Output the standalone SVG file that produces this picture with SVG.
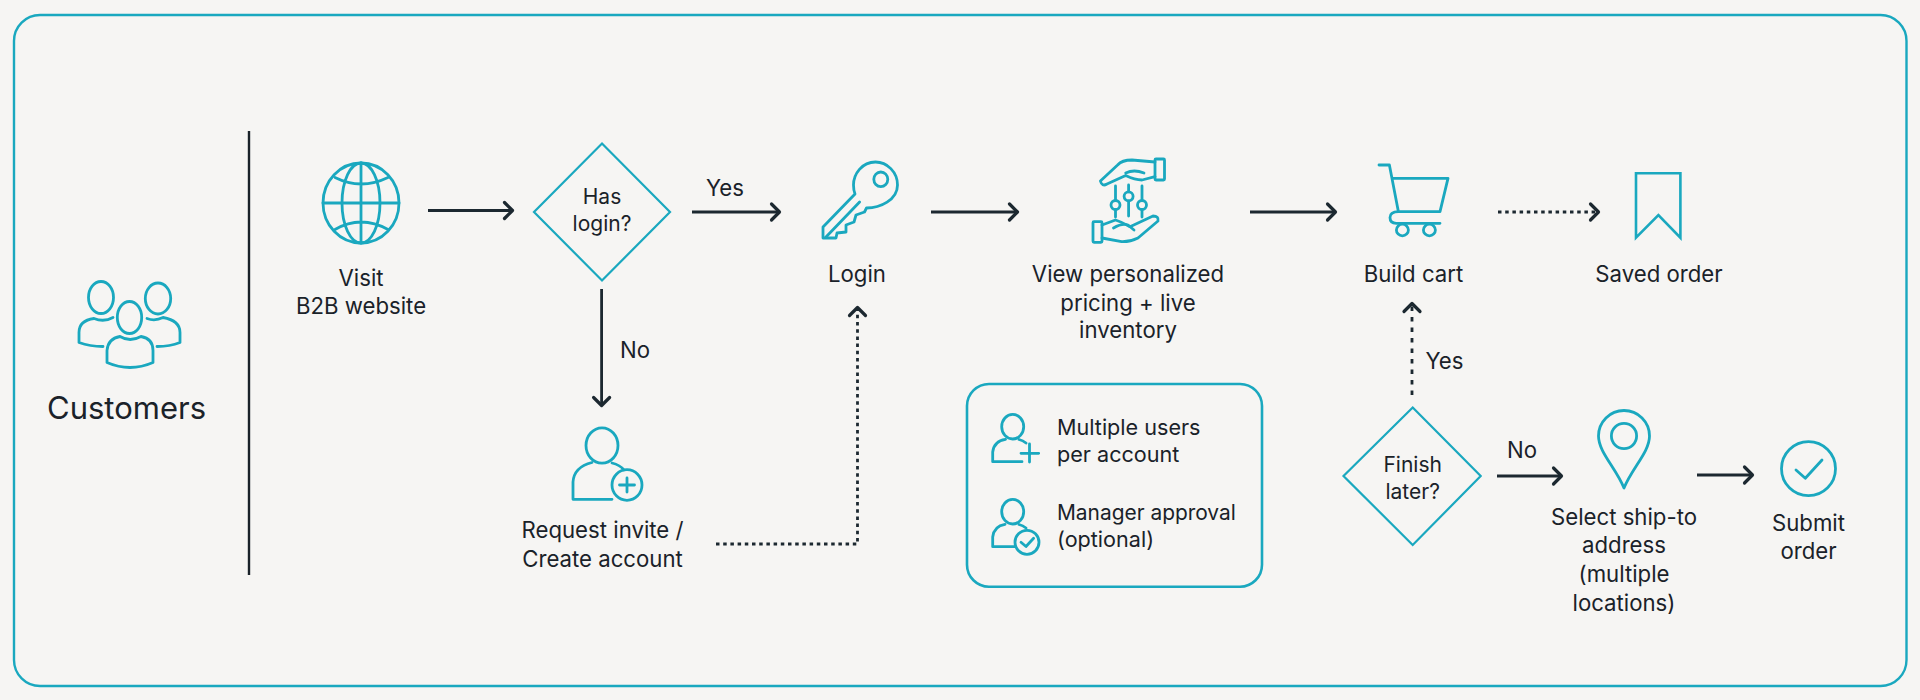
<svg xmlns="http://www.w3.org/2000/svg" width="1920" height="700" viewBox="0 0 1920 700">
<style>
text{font-family:"Inter","Liberation Sans",sans-serif;font-size:22.2px;fill:#1a2229;text-anchor:middle}
.l{text-anchor:start;font-size:21.6px}
.q{font-size:21px}
.ic,.d{fill:none;stroke:#1aa8bf;stroke-width:2.8;stroke-linecap:round;stroke-linejoin:round}
.d{stroke-width:2.2;stroke-linejoin:miter}
.a,.dot,.das{fill:none;stroke:#1c2830;stroke-width:2.8;marker-end:url(#h)}
.dot{stroke-dasharray:3.5 3.7}
.das{stroke-dasharray:4.5 6}
</style>
<defs><marker id="h" markerUnits="userSpaceOnUse" markerWidth="14" markerHeight="22" refX="11" refY="11" orient="auto"><path d="M2.5 3 L10.5 11 L2.5 19" fill="none" stroke="#1c2830" stroke-width="3.2" stroke-dasharray="none" stroke-linecap="round" stroke-linejoin="round"/></marker></defs>
<rect width="1920" height="700" fill="#f6f5f3"/>
<rect id="frame" x="14" y="15" width="1892.5" height="671" rx="26" fill="none" stroke="#1aa8bf" stroke-width="2.4"/>
<line id="divider" x1="249" y1="131" x2="249" y2="575" stroke="#1a2229" stroke-width="2.4"/>
<g id="connectors">
<line class="a" x1="428" y1="210.5" x2="513" y2="210.5"/>
<line class="a" x1="692" y1="212" x2="780" y2="212"/>
<line class="a" x1="931" y1="212" x2="1018" y2="212"/>
<line class="a" x1="1250" y1="212" x2="1336" y2="212"/>
<line class="dot" x1="1498" y1="212" x2="1599" y2="212"/>
<line class="a" x1="601.6" y1="289" x2="601.6" y2="406"/>
<path class="dot" d="M716 544 H857.5 V307"/>
<line class="das" x1="1412" y1="395" x2="1412" y2="303"/>
<line class="a" x1="1497" y1="476" x2="1562" y2="476"/>
<line class="a" x1="1697" y1="475" x2="1753" y2="475"/>
</g>
<g id="customers" class="ic">
<ellipse cx="101" cy="297.5" rx="12.5" ry="16"/><ellipse cx="158" cy="298.5" rx="12.7" ry="15.5"/><ellipse cx="129.5" cy="317.5" rx="12.2" ry="16"/>
<path d="M113 317.5 Q104 322.5 94 318.5 Q79 320.5 79 332.5 V342.5 Q90 346.5 103 346.5"/>
<path d="M147 318.5 Q155 321.5 163 317.5 Q180 320.5 180 332.5 V342.5 Q170 346.5 157 346.5"/>
<path d="M107 362.5 V350.5 Q108 338.5 120 336.5 Q130 342.5 141 336.5 Q153 338.5 153 350.5 V362.5 Q130 372.5 107 362.5Z"/>
<text x="126.5" y="419" style="font-size:31px;stroke:none">Customers</text>
</g>
<g id="visit">
<g class="ic"><ellipse cx="361" cy="203" rx="38" ry="40"/><ellipse cx="361" cy="203" rx="19" ry="40"/><path d="M361 163 V243 M323 203 H399 M335 177.5 Q361 190.5 388 177.5 M335 229.5 Q361 214.5 388 229.5"/></g>
<text x="361" y="286">Visit</text><text x="361" y="314">B2B website</text>
</g>
<g id="has-login">
<path class="d" d="M602 143.5 L670 212 L602 280.5 L534 212Z"/>
<text class="q" x="602" y="204">Has</text><text class="q" x="602" y="231">login?</text>
</g>
<text x="725" y="195.5">Yes</text>
<text x="635" y="357.5">No</text>
<g id="login">
<g class="ic"><path d="M855 194 L823 227 V238 H836 L837 233 L846 232 V225 L854 222 L856 215 L864.5 212 L866.5 208 C880 208 897.5 200 897.5 185 C897.5 172 887 162 875.5 162 C862 162 853.5 174 853.5 185 Q853.5 190 855 194Z"/><ellipse cx="880.8" cy="179.3" rx="7" ry="7.3"/><path d="M859.6 202 L826 237"/></g>
<text x="857" y="282">Login</text>
</g>
<g id="pricing">
<g class="ic"><path d="M1155 162 L1132 160 Q1122 160 1117.6 165 L1100.4 181 Q1102 187 1107 184 L1125.7 175.5 Q1135 180 1142 180 L1155 176.7"/><path d="M1125.7 173 Q1134 169 1144 173"/><rect x="1155" y="159" width="9.5" height="21" rx="1"/>
<path d="M1115.5 186 V200.5 M1115.5 209.5 V217 M1128.6 185 V191.8 M1128.6 200.8 V216 M1142 186 V200.5 M1142 209.5 V217"/><circle cx="1115.5" cy="205" r="4.5"/><circle cx="1128.6" cy="196.3" r="4.5"/><circle cx="1142" cy="205" r="4.5"/>
<path d="M1102 225 L1115.5 220 Q1122 222 1130 226.7 L1153 216 Q1159 216 1158 221 L1138 238 Q1130 242 1121.6 241.7 L1102 238"/><path d="M1113.5 228 Q1122 223 1128 225 L1134 230"/><rect x="1093" y="221.7" width="9" height="20.6" rx="1"/></g>
<text x="1128" y="282">View personalized</text><text x="1128" y="310.5">pricing + live</text><text x="1128" y="338">inventory</text>
</g>
<g id="cart">
<g class="ic"><path d="M1379 165 H1389.4 L1398.4 211.7 M1392 178.3 H1448 L1440 211.7 H1398.4 Q1390 212 1390 217.5 Q1390 223.3 1396.3 223.3 H1440"/><ellipse cx="1402.4" cy="230" rx="6" ry="5.8"/><ellipse cx="1429.4" cy="230" rx="6" ry="5.8"/></g>
<text x="1413.5" y="282">Build cart</text>
</g>
<g id="saved-order">
<path class="d" style="stroke-width:2.6" d="M1636 173.3 H1680.4 V237.7 L1658.4 215 L1636 237.7Z"/>
<text x="1659" y="282">Saved order</text>
</g>
<g id="request">
<g class="ic"><ellipse cx="602" cy="445.5" rx="16" ry="17.7"/><path d="M612 499.3 H573 V482 Q574 467 592 462.5 M612 463 Q620 465 624 470"/><ellipse cx="627" cy="485" rx="15" ry="15.3"/><path d="M619.5 485 H634.5 M627 478 V492"/></g>
<text x="602.5" y="538">Request invite /</text><text x="602.5" y="567">Create account</text>
</g>
<g id="panel">
<rect x="967" y="384" width="295" height="202.7" rx="22" fill="none" stroke="#1aa8bf" stroke-width="2.6"/>
<g class="ic"><ellipse cx="1012.7" cy="426.7" rx="11" ry="12.3"/><path d="M1022 461.7 H992.7 V452 Q994 441 1005.5 439.3 M1019 439.5 Q1023 440.5 1026 443 M1021 453.3 H1038.7 M1029.5 444 V462"/></g>
<text class="l" x="1057" y="434.5">Multiple users</text><text class="l" x="1057" y="462">per account</text>
<g class="ic"><ellipse cx="1012.7" cy="511.7" rx="11" ry="12.3"/><path d="M1014.7 546.7 H992.7 V537 Q994 526 1005 524.3 M1019 524.5 Q1023 525.5 1026 528"/><circle cx="1027" cy="542.3" r="12"/><path d="M1021 542.3 L1026 546.5 L1033.6 538.3"/></g>
<text class="l" x="1057" y="519.5" style="font-size:20.9px">Manager approval</text><text class="l" x="1057" y="547">(optional)</text>
</g>
<text x="1444.5" y="368.5">Yes</text>
<g id="finish-later">
<path class="d" d="M1412.7 407.5 L1480.7 476 L1412.7 545 L1343.5 476Z"/>
<text class="q" x="1412.7" y="471.5">Finish</text><text class="q" x="1412.7" y="498.5">later?</text>
</g>
<text x="1522" y="457.5">No</text>
<g id="ship-to">
<g class="ic"><path d="M1624 488 C1616 468 1598.5 452 1598.5 436 A25.5 25.5 0 0 1 1649.5 436 C1649.5 452 1632 468 1624 488Z"/><circle cx="1624" cy="436" r="12.6"/></g>
<text x="1624" y="524.5">Select ship-to</text><text x="1624" y="553">address</text><text x="1624" y="582">(multiple</text><text x="1624" y="610.5">locations)</text>
</g>
<g id="submit">
<g class="ic"><circle cx="1808.5" cy="468.7" r="27"/><path d="M1796 470 L1805.3 478.3 L1822 460"/></g>
<text x="1808.5" y="531">Submit</text><text x="1808.5" y="558.5">order</text>
</g>
</svg>
